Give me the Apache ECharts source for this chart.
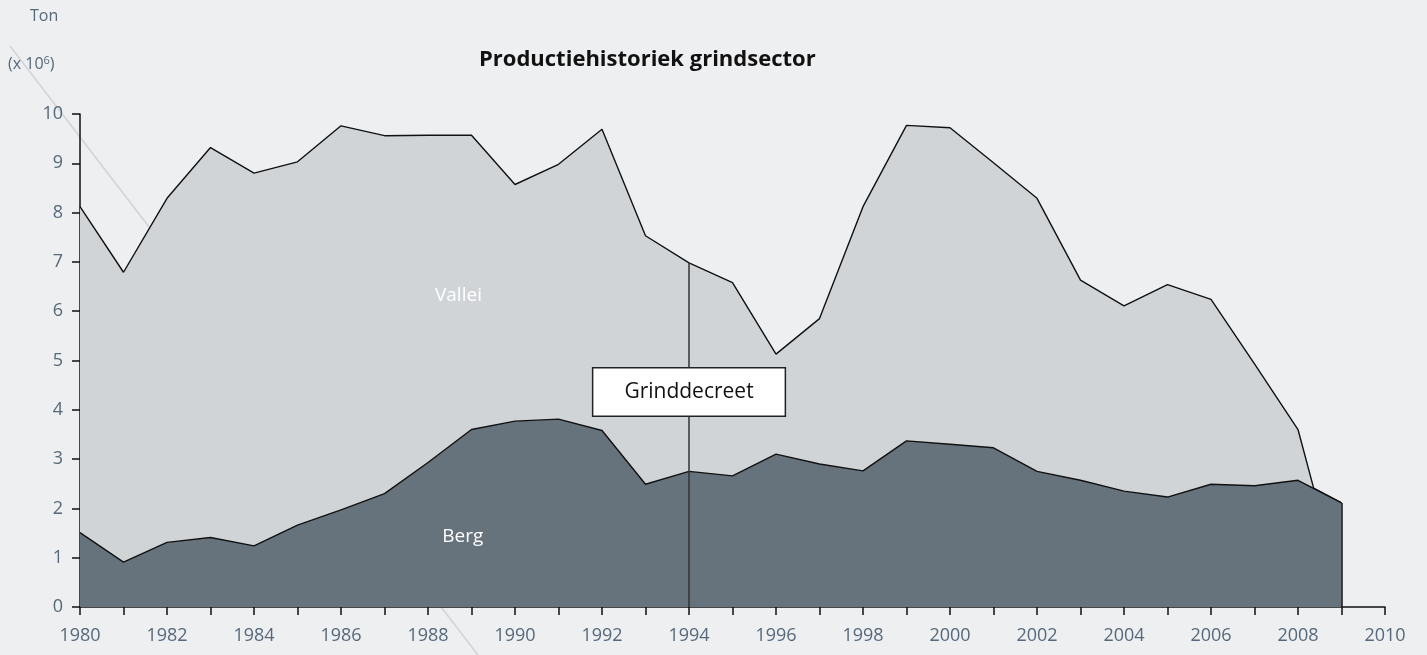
<!DOCTYPE html>
<html>
<head>
<meta charset="utf-8">
<title>Productiehistoriek grindsector</title>
<script src="https://cdn.jsdelivr.net/npm/echarts@6/dist/echarts.min.js"></script>
<style>
  html, body { margin: 0; padding: 0; background: #eeeff1; }
  #chart { width: 1427px; height: 655px; }
</style>
</head>
<body>
<div id="chart"></div>
<script>
// Jaren met productiecijfers (miljoen ton)
const jaren = [1980, 1981, 1982, 1983, 1984, 1985, 1986, 1987, 1988, 1989,
               1990, 1991, 1992, 1993, 1994, 1995, 1996, 1997, 1998, 1999,
               2000, 2001, 2002, 2003, 2004, 2005, 2006, 2007, 2008, 2009];

// Berggrind (onderste laag)
const berg = [1.51, 0.91, 1.31, 1.41, 1.24, 1.66, 1.97, 2.30, 2.93, 3.60,
              3.77, 3.81, 3.58, 2.49, 2.75, 2.66, 3.10, 2.90, 2.76, 3.37,
              3.30, 3.23, 2.75, 2.57, 2.35, 2.23, 2.49, 2.46, 2.57, 2.11];

// Totale productie (berg + vallei)
const totaal = [8.12, 6.79, 8.29, 9.32, 8.80, 9.03, 9.76, 9.56, 9.57, 9.57,
                8.57, 8.98, 9.69, 7.53, 6.98, 6.58, 5.13, 5.85, 8.12, 9.77,
                9.72, 9.01, 8.29, 6.63, 6.11, 6.54, 6.24, 4.93, 3.60, 2.11];

// Punt waar de valleiproductie wegvalt en de totaallijn de berglijn raakt
const valleiEinde = [2008.36, 2.41];

// As-instellingen
const xTicks = { min: 1980, max: 2010, step: 1, labelStep: 2 };
const yTicks = { min: 0, max: 10, step: 1 };

// Grinddecreet (jaartal en hoogte van het kader)
const decreetJaar = 1994;
const decreetKader = 4.36;

const textColor = '#56687a';
const fontFamily = '"Open Sans", "Noto Sans", sans-serif';

const bergData = jaren.map((j, i) => [j, berg[i]]);
const totaalData = jaren.map((j, i) => [j, totaal[i]]);
// voeg het snijpunt in voor 2009
totaalData.splice(totaalData.length - 1, 0, valleiEinde);

const decreetTop = totaal[jaren.indexOf(decreetJaar)];
const laatsteJaar = jaren[jaren.length - 1];
const laatsteBerg = berg[berg.length - 1];

const chart = echarts.init(document.getElementById('chart'), null, { renderer: 'canvas' });

chart.setOption({
  backgroundColor: '#eeeff1',
  animation: false,
  title: {
    text: 'Productiehistoriek grindsector',
    left: 474,
    top: 44,
    textStyle: { fontFamily: fontFamily, fontSize: 22, fontWeight: 'bold', color: '#111' }
  },
  graphic: [
    {
      type: 'line',
      z: -10,
      silent: true,
      shape: { x1: 10, y1: 46, x2: 478, y2: 655 },
      style: { stroke: '#d2d4d7', lineWidth: 1.6 }
    },
    {
      type: 'text',
      left: 30,
      top: 8,
      style: { text: 'Ton', fontFamily: fontFamily, fontSize: 16, fill: textColor }
    },
    {
      type: 'text',
      left: 8,
      top: 55,
      style: {
        text: '(x 10{s|6})',
        fontFamily: fontFamily,
        fontSize: 16,
        fill: textColor,
        rich: { s: { fontSize: 11, verticalAlign: 'top', padding: [0, 0, 8, 0], fill: textColor, fontFamily: fontFamily } }
      }
    }
  ],
  grid: { left: 80, right: 42, top: 114, bottom: 48 },
  xAxis: {
    type: 'value',
    min: xTicks.min,
    max: xTicks.max,
    interval: xTicks.step,
    splitLine: { show: false },
    axisLine: { lineStyle: { color: '#111', width: 1.5 } },
    axisTick: { length: 8, lineStyle: { color: '#111', width: 1.5 } },
    axisLabel: {
      margin: 20,
      fontFamily: fontFamily,
      fontSize: 18,
      color: textColor,
      formatter: v => ((v - xTicks.min) % xTicks.labelStep === 0 ? String(v) : '')
    }
  },
  yAxis: {
    type: 'value',
    min: yTicks.min,
    max: yTicks.max,
    interval: yTicks.step,
    splitLine: { show: false },
    axisLine: { show: true, lineStyle: { color: '#111', width: 1.5 } },
    axisTick: { show: true, length: 8, lineStyle: { color: '#111', width: 1.5 } },
    axisLabel: { margin: 17, fontFamily: fontFamily, fontSize: 18, color: textColor }
  },
  series: [
    {
      name: 'Vallei',
      type: 'line',
      data: totaalData,
      symbol: 'none',
      z: 2,
      lineStyle: { color: '#111', width: 1.4 },
      areaStyle: { color: '#d1d4d7', opacity: 1 },
      markPoint: {
        symbolSize: 0,
        silent: true,
        label: { show: true, position: 'inside', color: '#fff', fontFamily: fontFamily, fontSize: 19 },
        data: [{ coord: [1988.7, 6.32], value: 'Vallei', label: { formatter: 'Vallei' } }]
      }
    },
    {
      name: 'Berg',
      type: 'line',
      data: bergData,
      symbol: 'none',
      z: 3,
      lineStyle: { color: '#111', width: 1.4 },
      areaStyle: { color: '#67737c', opacity: 1 },
      markLine: {
        silent: true,
        symbol: 'none',
        label: { show: false },
        data: [
          [
            { coord: [decreetJaar, 0], lineStyle: { color: '#333', width: 1.5, type: 'solid' } },
            { coord: [decreetJaar, decreetTop] }
          ],
          [
            { coord: [laatsteJaar, 0], lineStyle: { color: '#111', width: 1.5, type: 'solid' } },
            { coord: [laatsteJaar, laatsteBerg] }
          ]
        ]
      },
      markPoint: {
        symbolSize: 0,
        silent: true,
        label: { show: true, position: 'inside', color: '#fff', fontFamily: fontFamily, fontSize: 19 },
        data: [{ coord: [1988.8, 1.42], value: 'Berg', label: { formatter: 'Berg' } }]
      }
    },
    {
      name: 'Grinddecreet',
      type: 'line',
      data: [],
      z: 5,
      markPoint: {
        symbolSize: 0,
        silent: true,
        data: [{
          coord: [decreetJaar, decreetKader],
          value: 'Grinddecreet',
          label: {
            show: true,
            position: 'inside',
            formatter: 'Grinddecreet',
            fontFamily: fontFamily,
            fontSize: 21,
            color: '#111',
            backgroundColor: '#fff',
            borderColor: '#222',
            borderWidth: 1.5,
            padding: [13, 31, 13, 31]
          }
        }]
      }
    }
  ]
});
</script>
</body>
</html>
